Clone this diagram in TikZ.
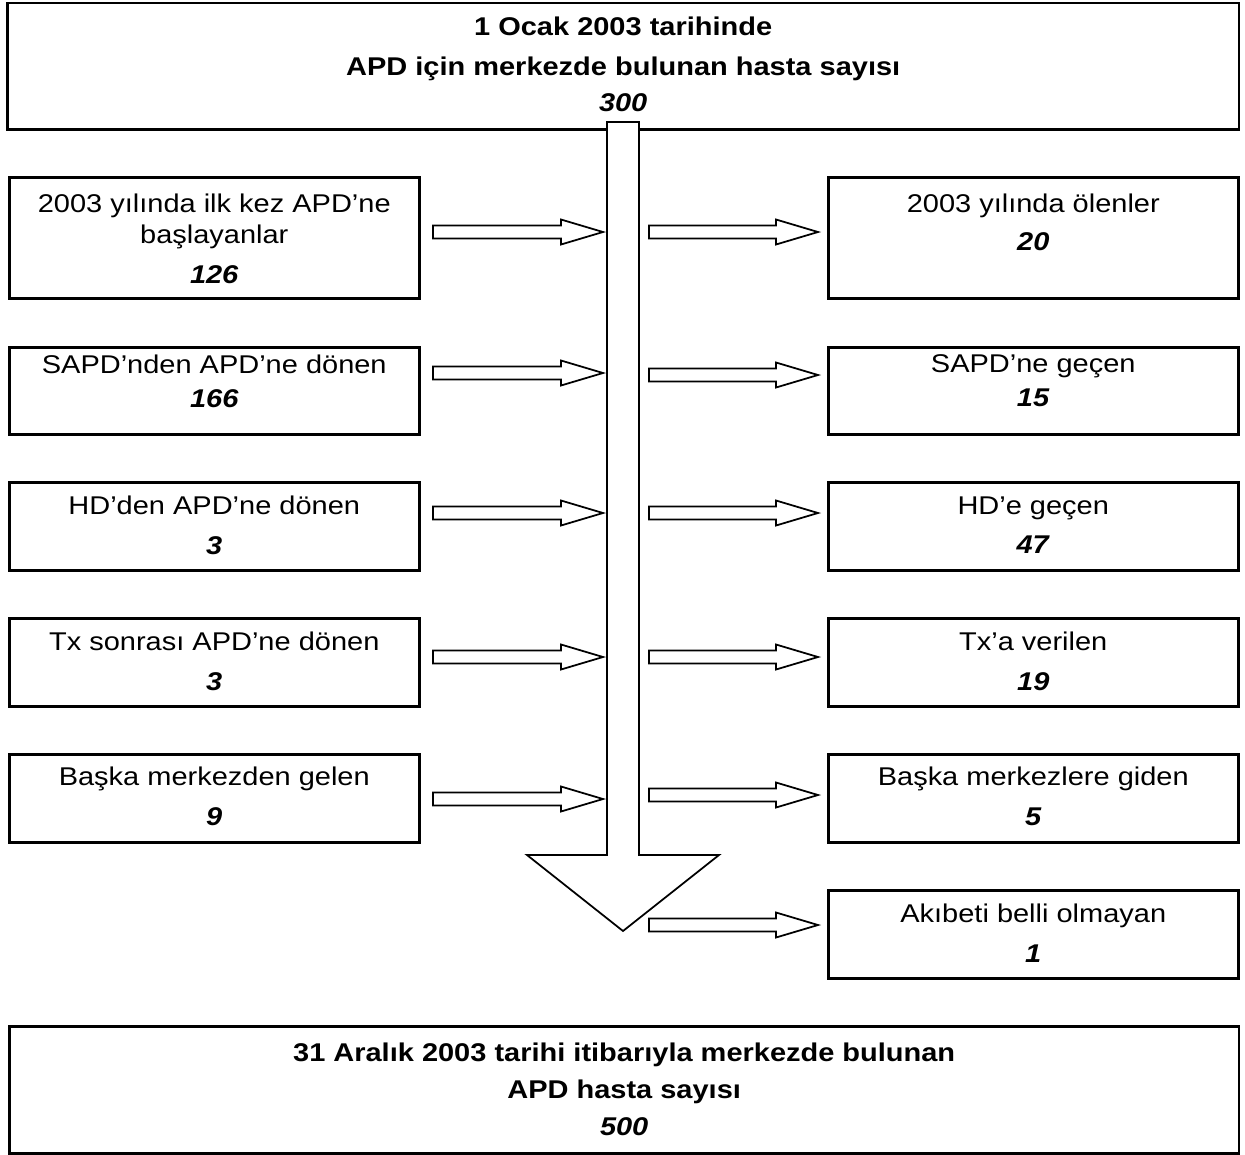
\documentclass[tikz,border=0pt]{standalone}
\usepackage{fontspec}
\setmainfont{Liberation Sans}[FakeStretch=1.13]
\usetikzlibrary{positioning, calc}

\begin{document}
\begin{tikzpicture}[x=0.02cm, y=-0.02cm,
    box/.style={draw, line width=1.5pt, fill=white, anchor=north west, inner sep=0pt, minimum width=8.2cm},
    txt/.style={align=center, inner sep=0pt, font=\fontsize{14.6}{22.7}\selectfont},
    blockarrow/.style={draw, fill=white, line width=1pt, to path={
        ($(\tikztostart)+(0,-6.5)$) -- ($(\tikztotarget)+(-42,-6.5)$) -- ($(\tikztotarget)+(-42,-12.5)$)
        -- (\tikztotarget) -- ($(\tikztotarget)+(-42,12.5)$) -- ($(\tikztotarget)+(-42,6.5)$)
        -- ($(\tikztostart)+(0,6.5)$) -- cycle}}]
    \useasboundingbox (0,0) rectangle (1245,1154);

    % start of the year
    \node[box, minimum width=24.64cm, minimum height=2.53cm] (start) at (6,1.5) {};
    \node[txt, font=\fontsize{14.6}{22.7}\selectfont\bfseries, below=0.30cm of start.north] (startt)
        {1 Ocak 2003 tarihinde\\APD için merkezde bulunan hasta sayısı\\[-2.3pt]\textit{300}};

    % patients coming in
    \node[box, minimum height=2.42cm] (in1) at (8,176) {};
    \node[txt, below=0.35cm of in1.north] (in1t) {2003 yılında ilk kez APD’ne\\[-5.1pt]başlayanlar\\\textbf{\textit{126}}};
    \node[box, minimum height=1.74cm] (in2) at (8,346) {};
    \node[txt, below=0.17cm of in2.north] (in2t) {SAPD’nden APD’ne dönen\\[-3.4pt]\textbf{\textit{166}}};
    \node[box, minimum height=1.76cm] (in3) at (8,481) {};
    \node[txt, below=0.30cm of in3.north] (in3t) {HD’den APD’ne dönen\\\textbf{\textit{3}}};
    \node[box, minimum height=1.76cm] (in4) at (8,617) {};
    \node[txt, below=0.29cm of in4.north] (in4t) {Tx sonrası APD’ne dönen\\\textbf{\textit{3}}};
    \node[box, minimum height=1.76cm] (in5) at (8,753) {};
    \node[txt, below=0.27cm of in5.north] (in5t) {Başka merkezden gelen\\\textbf{\textit{9}}};

    % patients going out
    \node[box, minimum height=2.42cm] (out1) at (827,176) {};
    \node[txt, below=0.35cm of out1.north] (out1t) {2003 yılında ölenler\\[-1pt]\textbf{\textit{20}}};
    \node[box, minimum height=1.74cm] (out2) at (827,346) {};
    \node[txt, below=0.17cm of out2.north] (out2t) {SAPD’ne geçen\\[-3.4pt]\textbf{\textit{15}}};
    \node[box, minimum height=1.76cm] (out3) at (827,481) {};
    \node[txt, below=0.30cm of out3.north] (out3t) {HD’e geçen\\\textbf{\textit{47}}};
    \node[box, minimum height=1.76cm] (out4) at (827,617) {};
    \node[txt, below=0.29cm of out4.north] (out4t) {Tx’a verilen\\\textbf{\textit{19}}};
    \node[box, minimum height=1.76cm] (out5) at (827,753) {};
    \node[txt, below=0.27cm of out5.north] (out5t) {Başka merkezlere giden\\\textbf{\textit{5}}};
    \node[box, minimum height=1.76cm] (out6) at (827,889) {};
    \node[txt, below=0.30cm of out6.north] (out6t) {Akıbeti belli olmayan\\\textbf{\textit{1}}};

    % end of the year
    \node[box, minimum width=24.6cm, minimum height=2.54cm] (finish) at (8,1025) {};
    \node[txt, font=\fontsize{14.6}{22.7}\selectfont\bfseries, below=0.35cm of finish.north] (finisht)
        {31 Aralık 2003 tarihi itibarıyla merkezde bulunan\\[-1.7pt]APD hasta sayısı\\[-1.7pt]\textit{500}};

    % the big arrow down the middle
    \coordinate (s1) at (607,122);
    \coordinate (s2) at (639,122);
    \coordinate (s3) at (639,855);
    \coordinate (s4) at (719,855);
    \coordinate (tip) at (623,931);
    \coordinate (s5) at (527,855);
    \coordinate (s6) at (607,855);
    \draw[line width=1pt, fill=white] (s1) -- (s2) -- (s3) -- (s4) -- (tip) -- (s5) -- (s6) -- cycle;

    % small arrows in and out
    \foreach \i/\y in {1/232, 2/373, 3/513, 4/657, 5/799} {
        \coordinate (ina\i) at (433,\y);
        \coordinate (inb\i) at (603,\y);
        \draw[blockarrow] (ina\i) to (inb\i);
    }
    \foreach \i/\y in {1/232, 2/375, 3/513, 4/657, 5/795, 6/925} {
        \coordinate (outa\i) at (649,\y);
        \coordinate (outb\i) at (818,\y);
        \draw[blockarrow] (outa\i) to (outb\i);
    }
\end{tikzpicture}
\end{document}
